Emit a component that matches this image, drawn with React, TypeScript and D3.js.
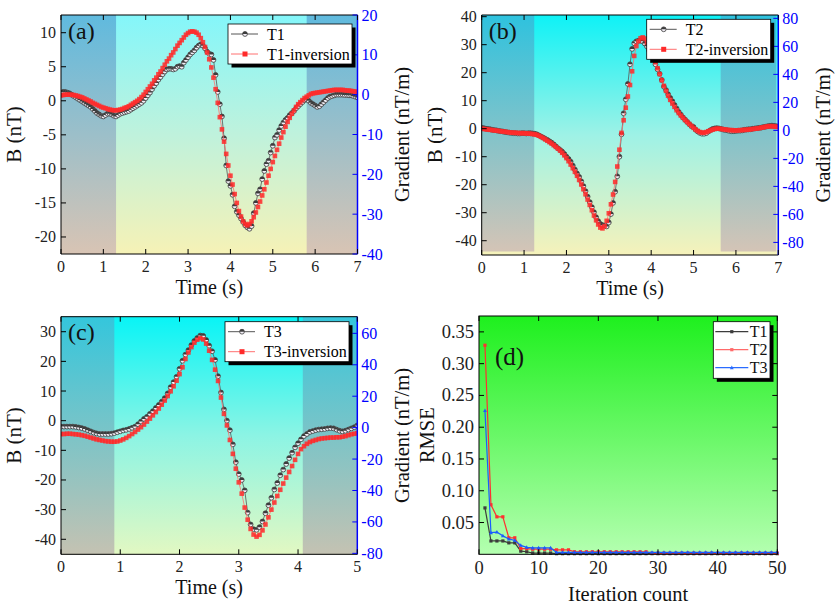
import * as d3 from "d3";

// sampling interval of the profiles (s)
const STEP = 0.05;

const t1Measured = [
  1.2, 1.3, 1.3, 1.2, 1.1, 0.9, 0.7, 0.5, 0.3, 0.1, -0.1, -0.3, -0.5, -0.7, -0.9, -1.2, -1.5, -1.8, -2.0, -2.2,
  -2.3, -2.1, -1.9, -1.9, -2.0, -2.2, -2.3, -2.1, -1.9, -1.8, -1.7, -1.6, -1.5, -1.3, -1.1, -0.9, -0.7, -0.5, -0.3, 0.0,
  0.4, 0.8, 1.2, 1.7, 2.2, 2.6, 3.1, 3.5, 3.9, 4.3, 4.6, 4.7, 4.7, 4.6, 4.7, 5.0, 5.1, 5.0, 5.6, 6.0,
  6.4, 6.8, 7.1, 7.4, 7.8, 8.1, 8.3, 8.1, 7.7, 7.2, 6.9, 6.8, 6.0, 3.8, 1.3, -0.5, -2.3, -5.5, -9.5, -11.8,
  -12.5, -13.8, -15.5, -16.3, -16.8, -17.3, -17.8, -18.3, -18.6, -18.8, -18.4, -16.5, -15.0, -13.6, -13.0, -11.5, -10.3, -9.3, -8.8, -7.6,
  -6.6, -5.4, -5.0, -4.3, -3.7, -3.2, -2.8, -2.5, -2.1, -1.8, -1.5, -1.1, -0.8, -0.5, -0.2, 0.1, 0.2, 0.0, -0.3, -0.5,
  -0.7, -0.9, -0.8, -0.5, -0.2, 0.1, 0.4, 0.6, 0.7, 0.8, 0.9, 0.9, 0.9, 0.9, 0.85, 0.85, 0.8, 0.8, 0.7, 0.6,
  0.5,
];
const t1Inversion = [
  0.8, 0.85, 0.9, 0.9, 0.9, 0.88, 0.85, 0.78, 0.7, 0.6, 0.5, 0.35, 0.2, 0.05, -0.1, -0.3, -0.45, -0.6, -0.75, -0.9,
  -1.0, -1.1, -1.2, -1.3, -1.35, -1.4, -1.4, -1.35, -1.3, -1.2, -1.05, -0.95, -0.8, -0.6, -0.4, -0.2, 0.0, 0.25, 0.55, 0.9,
  1.3, 1.7, 2.1, 2.5, 3.0, 3.4, 3.9, 4.3, 4.8, 5.3, 5.8, 6.2, 6.7, 7.1, 7.6, 8.1, 8.5, 8.9, 9.3, 9.7,
  9.95, 10.15, 10.2, 10.15, 10.0, 9.7, 9.2, 8.6, 7.9, 7.1, 6.1, 4.9, 3.4, 1.7, -0.3, -2.4, -4.2, -6.0, -7.8, -9.5,
  -11.0, -12.3, -13.7, -15.0, -16.2, -17.0, -17.7, -18.1, -18.3, -18.1, -17.7, -17.1, -16.4, -15.6, -14.8, -13.9, -13.0, -12.0, -11.0, -10.0,
  -9.0, -8.1, -7.2, -6.3, -5.4, -4.6, -3.8, -3.1, -2.5, -1.9, -1.4, -0.9, -0.5, -0.2, 0.1, 0.4, 0.6, 0.8, 1.0, 1.1,
  1.15, 1.2, 1.25, 1.3, 1.35, 1.4, 1.45, 1.5, 1.55, 1.6, 1.6, 1.6, 1.6, 1.6, 1.55, 1.5, 1.5, 1.45, 1.4, 1.35,
  1.3,
];

const t2Measured = [
  0.3, 0.2, 0.0, -0.1, -0.2, -0.4, -0.5, -0.6, -0.8, -0.9, -1.0, -1.2, -1.3, -1.4, -1.5, -1.6, -1.6, -1.7, -1.7, -1.6,
  -1.6, -1.7, -1.6, -1.6, -1.7, -1.8, -2.0, -2.4, -2.8, -3.2, -3.6, -4.0, -4.5, -5.0, -5.6, -6.3, -7.0, -7.6, -8.2, -9.0,
  -10.0, -10.8, -11.8, -13.2, -14.6, -16.0, -17.2, -18.8, -20.5, -22.3, -24.3, -26.2, -28.0, -29.8, -31.6, -33.0, -34.0, -34.4, -34.6, -34.9,
  -33.5, -30.5, -26.5, -22.5, -17.0, -10.0, -2.0, 5.5, 10.5, 16.0, 23.0, 28.5, 30.5, 31.2, 31.4, 31.5, 31.2, 30.4, 29.4, 28.0,
  26.6, 24.8, 23.0, 21.2, 19.6, 17.4, 15.0, 13.8, 12.3, 11.0, 9.8, 8.5, 7.2, 6.0, 5.0, 4.0, 3.2, 2.4, 1.6, 0.9,
  0.6, -0.4, -1.0, -1.5, -1.8, -1.8, -1.6, -1.0, -0.5, -0.1, 0.1, 0.2, 0.1, -0.1, -0.3, -0.5, -0.6, -0.8, -0.9, -0.9,
  -0.8, -0.7, -0.7, -0.6, -0.4, -0.3, -0.2, -0.2, 0.0, 0.1, 0.2, 0.3, 0.4, 0.6, 0.7, 0.9, 1.0, 1.1, 1.0, 0.9,
  0.8,
];
const t2Inversion = [
  0.0, -0.1, -0.2, -0.3, -0.4, -0.5, -0.6, -0.7, -0.8, -0.9, -1.0, -1.1, -1.2, -1.3, -1.4, -1.4, -1.5, -1.5, -1.6, -1.6,
  -1.6, -1.7, -1.7, -1.8, -1.9, -2.0, -2.2, -2.5, -2.9, -3.3, -3.8, -4.3, -4.8, -5.3, -5.9, -6.5, -7.1, -7.8, -8.6, -9.5,
  -10.5, -11.6, -12.8, -14.1, -15.4, -16.8, -18.3, -19.9, -21.6, -23.4, -25.3, -27.2, -29.1, -31.0, -32.7, -34.2, -35.3, -35.6, -34.8, -32.9,
  -30.2, -27.0, -23.5, -19.0, -13.5, -7.5, -1.5, 3.0, 7.5, 11.5, 15.6, 20.5, 26.0, 29.5, 31.2, 32.3, 32.6, 32.2, 30.8, 29.3,
  27.6, 25.8, 23.8, 21.6, 19.5, 17.3, 15.3, 13.5, 11.8, 10.3, 9.0, 7.8, 6.6, 5.6, 4.7, 3.9, 3.1, 2.4, 1.7, 1.0,
  0.3, -0.3, -0.8, -1.2, -1.4, -1.4, -1.2, -0.9, -0.6, -0.3, -0.1, 0.0, 0.0, -0.1, -0.2, -0.3, -0.4, -0.5, -0.5, -0.6,
  -0.6, -0.6, -0.5, -0.5, -0.4, -0.4, -0.3, -0.2, -0.1, 0.0, 0.1, 0.2, 0.4, 0.5, 0.7, 0.8, 0.9, 0.9, 0.8, 0.7,
  0.6,
];

const t3Measured = [
  -2.0, -2.0, -2.0, -2.0, -2.0, -2.1, -2.3, -2.5, -2.8, -3.2, -3.6, -4.0, -4.3, -4.5, -4.5, -4.5, -4.5, -4.4, -4.2, -3.9,
  -3.6, -3.3, -3.1, -2.8, -2.4, -2.0, -1.2, -0.3, 0.6, 1.3, 2.3, 3.2, 4.3, 5.3, 6.4, 7.6, 9.2, 11.3, 13.0, 14.8,
  17.5, 20.2, 22.3, 23.8, 25.5, 26.9, 27.9, 28.7, 28.6, 27.2, 25.3, 23.4, 20.5, 15.0, 9.5, 3.8, 0.0, -3.2, -8.0, -14.0,
  -18.0, -20.0, -23.5, -31.0, -35.0, -36.6, -36.8, -35.9, -34.0, -31.2, -28.5, -26.0, -23.2, -21.0, -18.4, -16.5, -14.6, -12.6, -10.8, -9.0,
  -7.6, -6.3, -5.2, -4.5, -3.8, -3.5, -3.2, -3.0, -2.9, -2.8, -2.6, -2.5, -2.6, -3.0, -3.4, -3.6, -3.4, -3.0, -2.6, -2.2,
  -1.6,
];
const t3Inversion = [
  -4.5, -4.5, -4.4, -4.4, -4.5, -4.6, -4.7, -4.9, -5.1, -5.4, -5.7, -6.0, -6.3, -6.5, -6.7, -6.9, -7.0, -7.1, -7.1, -7.0,
  -6.7, -6.3, -5.8, -5.2, -4.5, -3.8, -3.0, -2.2, -1.3, -0.3, 0.7, 1.8, 2.9, 4.1, 5.4, 6.8, 8.3, 9.9, 11.6, 13.5,
  15.7, 18.0, 20.8, 23.0, 24.8, 26.3, 27.3, 27.8, 27.4, 26.0, 23.6, 20.5, 17.2, 13.4, 7.8, 2.3, -1.6, -6.5, -11.2, -16.2,
  -20.8, -24.6, -29.3, -33.4, -36.5, -38.4, -39.1, -38.5, -37.0, -35.0, -32.6, -30.0, -27.6, -25.4, -23.3, -21.2, -19.2, -17.3, -15.3, -13.2,
  -11.2, -9.6, -8.6, -7.8, -7.2, -6.8, -6.5, -6.2, -6.0, -5.9, -5.8, -5.7, -5.7, -5.6, -5.6, -5.4, -5.2, -4.9, -4.6, -4.4,
  -4.2,
];

// RMSE per iteration (1..50)
const rmseT1 = [
  0.073, 0.021, 0.021, 0.021, 0.018, 0.018, 0.005, 0.004, 0.002, 0.002, 0.002, 0.002,
  0.001, 0.001, 0.001, 0.001, 0.001, 0.001, 0.001, 0.001, 0.001, 0.001, 0.001, 0.001, 0.001,
  0.001, 0.001, 0.001, 0.001, 0.001, 0.001, 0.001, 0.001, 0.001, 0.001, 0.001, 0.001, 0.001,
  0.001, 0.001, 0.001, 0.001, 0.001, 0.001, 0.001, 0.001, 0.001, 0.001, 0.001, 0.001,
];
const rmseT2 = [
  0.329, 0.078, 0.059, 0.059, 0.026, 0.026, 0.009, 0.009, 0.008, 0.008, 0.008, 0.008, 0.007, 0.007, 0.007,
  0.004, 0.004, 0.004, 0.004, 0.004, 0.004, 0.004, 0.004, 0.004, 0.004, 0.004, 0.004, 0.004,
  0.002, 0.002, 0.002, 0.002, 0.002, 0.002, 0.002, 0.002, 0.002, 0.002, 0.002, 0.002, 0.002,
  0.002, 0.002, 0.002, 0.002, 0.002, 0.002, 0.002, 0.002, 0.002,
];
const rmseT3 = [
  0.226, 0.034, 0.035, 0.029, 0.024, 0.022, 0.014, 0.011, 0.010, 0.010, 0.010, 0.010,
  0.003, 0.003, 0.003, 0.003, 0.003, 0.003, 0.003, 0.003, 0.003, 0.003, 0.003, 0.003, 0.003,
  0.003, 0.003, 0.003, 0.003, 0.003, 0.003, 0.003, 0.003, 0.003, 0.003, 0.003, 0.003, 0.003,
  0.003, 0.003, 0.003, 0.003, 0.003, 0.003, 0.003, 0.003, 0.003, 0.003, 0.003, 0.003,
];

const FONT = "'Liberation Serif', serif";
const BLUE = "#0000ff";

type Box = { x0: number; x1: number; y0: number; y1: number };

function MeasuredMarker({ cx, cy, r = 2.4 }: { cx: number; cy: number; r?: number }) {
  return (
    <g>
      <circle cx={cx} cy={cy} r={r} fill="#f2eef6" stroke="#3c3c3c" strokeWidth={0.8} />
      <path d={`M${cx - r},${cy} A${r},${r} 0 0 1 ${cx + r},${cy} Z`} fill="#3c3c3c" />
    </g>
  );
}

function Legend({ x, y, names }: { x: number; y: number; names: string[] }) {
  const w = 124;
  const h = 40;
  return (
    <g style={{ fontFamily: FONT, fontSize: "16px" }}>
      <rect x={x + 3.5} y={y + 3.5} width={w} height={h} fill="#000" />
      <rect x={x} y={y} width={w} height={h} fill="#fff" stroke="#000" strokeWidth={0.8} />
      <line x1={x + 3} x2={x + 30} y1={y + 10} y2={y + 10} stroke="#555" strokeWidth={1} />
      <MeasuredMarker cx={x + 17} cy={y + 10} />
      <text x={x + 39} y={y + 15.5}>{names[0]}</text>
      <line x1={x + 3} x2={x + 30} y1={y + 30} y2={y + 30} stroke="#ff7070" strokeWidth={1} />
      <rect x={x + 14.5} y={y + 27.5} width={5} height={5} fill="#ff2a2a" />
      <text x={x + 39} y={y + 35.5}>{names[1]}</text>
    </g>
  );
}

function Profile({
  id,
  box,
  xMax,
  yDomain,
  yTicks,
  y2Domain,
  y2Ticks,
  shades,
  bg,
  shade,
  shadeBottom,
  measured,
  inversion,
  names,
  label,
  legendPos,
}: {
  id: string;
  box: Box;
  xMax: number;
  yDomain: [number, number];
  yTicks: number[];
  y2Domain: [number, number];
  y2Ticks: number[];
  shades: [number, number][];
  bg: string[];
  shade: string[];
  shadeBottom: number;
  measured: number[];
  inversion: number[];
  names: string[];
  label: string;
  legendPos: [number, number];
}) {
  const x = d3.scaleLinear().domain([0, xMax]).range([box.x0, box.x1]);
  const y = d3.scaleLinear().domain(yDomain).range([box.y1, box.y0]);
  const y2 = d3.scaleLinear().domain(y2Domain).range([box.y1, box.y0]);
  const xTicks = d3.range(0, xMax + 1);
  const line = d3
    .line<number>()
    .x((_, i) => x(i * STEP))
    .y(d => y(d));
  const w = box.x1 - box.x0;
  const h = box.y1 - box.y0;
  return (
    <g style={{ fontFamily: FONT }}>
      <defs>
        <linearGradient id={`bg-${id}`} x1="0" y1="0" x2="0" y2="1">
          {bg.map((c, i) => (
            <stop key={i} offset={i / (bg.length - 1)} stopColor={c} />
          ))}
        </linearGradient>
        <linearGradient id={`sh-${id}`} x1="0" y1="0" x2="0" y2="1">
          {shade.map((c, i) => (
            <stop key={i} offset={i / (shade.length - 1)} stopColor={c} />
          ))}
        </linearGradient>
        <clipPath id={`clip-${id}`}>
          <rect x={box.x0} y={box.y0} width={w} height={h} />
        </clipPath>
      </defs>
      <rect x={box.x0} y={box.y0} width={w} height={h} fill={`url(#bg-${id})`} />
      {shades.map(([a, b], i) => (
        <rect
          key={i}
          x={x(a)}
          y={box.y0}
          width={x(b) - x(a)}
          height={shadeBottom - box.y0}
          fill={`url(#sh-${id})`}
        />
      ))}
      <g clipPath={`url(#clip-${id})`}>
        <path d={line(measured) ?? undefined} fill="none" stroke="#555" strokeWidth={0.8} />
        {measured.map((d, i) => (
          <MeasuredMarker key={i} cx={x(i * STEP)} cy={y(d)} />
        ))}
        <path d={line(inversion) ?? undefined} fill="none" stroke="#ff7070" strokeWidth={0.8} />
        {inversion.map((d, i) => (
          <rect
            key={i}
            x={x(i * STEP) - 2.3}
            y={y(d) - 2.3}
            width={4.6}
            height={4.6}
            fill="#ff2a2a"
            fillOpacity={0.85}
          />
        ))}
      </g>
      {/* frame */}
      <line x1={box.x0} x2={box.x1} y1={box.y0} y2={box.y0} stroke="#000" strokeWidth={1} />
      <line x1={box.x0} x2={box.x1} y1={box.y1} y2={box.y1} stroke="#000" strokeWidth={1} />
      <line x1={box.x0} x2={box.x0} y1={box.y0} y2={box.y1} stroke="#000" strokeWidth={1} />
      <line x1={box.x1} x2={box.x1} y1={box.y0} y2={box.y1} stroke={BLUE} strokeWidth={1.5} />
      {xTicks.map(t => (
        <g key={t}>
          <line x1={x(t)} x2={x(t)} y1={box.y1} y2={box.y1 - 5} stroke="#000" />
          <line x1={x(t)} x2={x(t)} y1={box.y0} y2={box.y0 + 5} stroke="#000" />
          <text x={x(t)} y={box.y1 + 18} style={{ fontSize: "16px" }} textAnchor="middle" fill="#222">
            {t}
          </text>
        </g>
      ))}
      {yTicks.map(t => (
        <g key={t}>
          <line x1={box.x0} x2={box.x0 + 5} y1={y(t)} y2={y(t)} stroke="#000" />
          <text x={box.x0 - 5} y={y(t) + 5.5} style={{ fontSize: "16px" }} textAnchor="end" fill="#222">
            {t}
          </text>
        </g>
      ))}
      {y2Ticks.map(t => (
        <g key={t}>
          <line x1={box.x1} x2={box.x1 - 5} y1={y2(t)} y2={y2(t)} stroke={BLUE} />
          <text x={box.x1 + 4} y={y2(t) + 5.5} style={{ fontSize: "16px" }} textAnchor="start" fill={BLUE}>
            {t}
          </text>
        </g>
      ))}
      <text
        x={(box.x0 + box.x1) / 2}
        y={box.y1 + 40}
        style={{ fontSize: "20px" }}
        textAnchor="middle"
        fill="#111"
      >
        Time (s)
      </text>
      <text
        transform={`translate(${box.x0 - 40},${(box.y0 + box.y1) / 2}) rotate(-90)`}
        style={{ fontSize: "21px" }}
        textAnchor="middle"
        fill="#111"
      >
        B (nT)
      </text>
      <text
        transform={`translate(${box.x1 + 51.5},${(box.y0 + box.y1) / 2}) rotate(-90)`}
        style={{ fontSize: "20.5px" }}
        textAnchor="middle"
        fill="#111"
      >
        Gradient (nT/m)
      </text>
      <text x={box.x0 + 7} y={box.y0 + 23.5} style={{ fontSize: "24px" }} fill="#111">
        {label}
      </text>
      <Legend x={legendPos[0]} y={legendPos[1]} names={names} />
    </g>
  );
}

function RmsePanel() {
  const box: Box = { x0: 479, x1: 777.3, y0: 316, y1: 554.3 };
  const x = d3.scaleLinear().domain([0, 50]).range([box.x0, box.x1]);
  const y = d3.scaleLinear().domain([0, 0.375]).range([box.y1, box.y0]);
  const xTicks = [0, 10, 20, 30, 40, 50];
  const yTicks = [0.05, 0.1, 0.15, 0.2, 0.25, 0.3, 0.35];
  const line = d3
    .line<number>()
    .x((_, i) => x(i + 1))
    .y(d => y(d));
  const series = [
    { name: "T1", data: rmseT1, color: "#3c3c3c", legendColor: "#3c3c3c", shape: "square" },
    { name: "T2", data: rmseT2, color: "#ff3030", legendColor: "#ff6a6a", shape: "square" },
    { name: "T3", data: rmseT3, color: "#1a5cff", legendColor: "#2a6cff", shape: "triangle" },
  ];
  const marker = (shape: string, cx: number, cy: number, color: string, s = 3.2) =>
    shape === "square" ? (
      <rect x={cx - s / 2} y={cy - s / 2} width={s} height={s} fill={color} />
    ) : (
      <path d={`M${cx},${cy - s * 0.65} L${cx + s * 0.6},${cy + s * 0.45} L${cx - s * 0.6},${cy + s * 0.45} Z`} fill={color} />
    );
  const lx = 713.3;
  const ly = 321.7;
  return (
    <g style={{ fontFamily: FONT }}>
      <defs>
        <linearGradient id="bg-d" x1="0" y1="0" x2="0" y2="1">
          <stop offset="0" stopColor="#1ef01e" />
          <stop offset="1" stopColor="#b4ffb0" />
        </linearGradient>
      </defs>
      <rect x={box.x0} y={box.y0} width={box.x1 - box.x0} height={box.y1 - box.y0} fill="url(#bg-d)" />
      {series.map(s => (
        <g key={s.name}>
          <path d={line(s.data) ?? undefined} fill="none" stroke={s.color} strokeWidth={1.2} />
          {s.data.map((d, i) => (
            <g key={i}>{marker(s.shape, x(i + 1), y(d), s.color)}</g>
          ))}
        </g>
      ))}
      <rect
        x={box.x0}
        y={box.y0}
        width={box.x1 - box.x0}
        height={box.y1 - box.y0}
        fill="none"
        stroke="#000"
        strokeWidth={1}
      />
      {xTicks.map(t => (
        <g key={t}>
          <line x1={x(t)} x2={x(t)} y1={box.y1} y2={box.y1 - 5} stroke="#000" />
          <line x1={x(t)} x2={x(t)} y1={box.y0} y2={box.y0 + 5} stroke="#000" />
          <text x={x(t)} y={box.y1 + 20} style={{ fontSize: "18.5px" }} textAnchor="middle" fill="#222">
            {t}
          </text>
        </g>
      ))}
      {yTicks.map(t => (
        <g key={t}>
          <line x1={box.x0} x2={box.x0 + 5} y1={y(t)} y2={y(t)} stroke="#000" />
          <line x1={box.x1} x2={box.x1 - 5} y1={y(t)} y2={y(t)} stroke="#000" />
          <text x={box.x0 - 5} y={y(t) + 6} style={{ fontSize: "18.5px" }} textAnchor="end" fill="#222">
            {d3.format(".2f")(t)}
          </text>
        </g>
      ))}
      <text x={(box.x0 + box.x1) / 2} y={box.y1 + 47} style={{ fontSize: "20.5px" }} textAnchor="middle" fill="#111">
        Iteration count
      </text>
      <text
        transform={`translate(${box.x0 - 45},${(box.y0 + box.y1) / 2}) rotate(-90)`}
        style={{ fontSize: "20.5px" }}
        textAnchor="middle"
        fill="#111"
      >
        RMSE
      </text>
      <text x={495} y={365} style={{ fontSize: "25px" }} fill="#111">
        (d)
      </text>
      <g style={{ fontSize: "16px" }}>
        <rect x={lx + 3.5} y={ly + 3.5} width={56.7} height={56.6} fill="#000" />
        <rect x={lx} y={ly} width={56.7} height={56.6} fill="#fff" stroke="#000" strokeWidth={0.8} />
        {series.map((s, i) => {
          const yy = ly + 10 + i * 18;
          return (
            <g key={s.name}>
              <line x1={lx + 2} x2={lx + 35} y1={yy} y2={yy} stroke={s.legendColor} strokeWidth={1.2} />
              {marker(s.shape, lx + 18.5, yy, s.legendColor)}
              <text x={lx + 36.5} y={yy + 5.5} fill="#111">
                {s.name}
              </text>
            </g>
          );
        })}
      </g>
    </g>
  );
}

export default function App() {
  return (
    <svg
      width={839}
      height={611}
      style={{ position: "absolute", left: 0, top: 0, background: "#fff" }}
    >
      <Profile
        id="a"
        box={{ x0: 61, x1: 357.5, y0: 15, y1: 254 }}
        xMax={7}
        yDomain={[-22.5, 12.6]}
        yTicks={[-20, -15, -10, -5, 0, 5, 10]}
        y2Domain={[-40, 20]}
        y2Ticks={[-40, -30, -20, -10, 0, 10, 20]}
        shades={[
          [0, 1.3],
          [5.8, 7],
        ]}
        bg={["#84f6fa", "#bff2dc", "#f6f2b6"]}
        shade={["#60bade", "#d8c4b4"]}
        shadeBottom={254}
        measured={t1Measured}
        inversion={t1Inversion}
        names={["T1", "T1-inversion"]}
        label="(a)"
        legendPos={[228, 24]}
      />
      <Profile
        id="b"
        box={{ x0: 481.7, x1: 778.3, y0: 15, y1: 255 }}
        xMax={7}
        yDomain={[-45.1, 40.6]}
        yTicks={[-40, -30, -20, -10, 0, 10, 20, 30, 40]}
        y2Domain={[-89, 82.4]}
        y2Ticks={[-80, -60, -40, -20, 0, 20, 40, 60, 80]}
        shades={[
          [0, 1.24],
          [5.64, 6.95],
        ]}
        bg={["#0ef2f6", "#9ef2e6", "#f6f2ba"]}
        shade={["#2ec2de", "#d4c4b6"]}
        shadeBottom={251.5}
        measured={t2Measured}
        inversion={t2Inversion}
        names={["T2", "T2-inversion"]}
        label="(b)"
        legendPos={[646.7, 19.3]}
      />
      <Profile
        id="c"
        box={{ x0: 61, x1: 357.3, y0: 316.7, y1: 554.3 }}
        xMax={5}
        yDomain={[-45.06, 35.06]}
        yTicks={[-40, -30, -20, -10, 0, 10, 20, 30]}
        y2Domain={[-80.6, 70.6]}
        y2Ticks={[-80, -60, -40, -20, 0, 20, 40, 60]}
        shades={[
          [0, 0.9],
          [4.08, 5],
        ]}
        bg={["#08f4f6", "#8cf4e4", "#e2f8c2"]}
        shade={["#34c6dc", "#c4c2b2"]}
        shadeBottom={554.3}
        measured={t3Measured}
        inversion={t3Inversion}
        names={["T3", "T3-inversion"]}
        label="(c)"
        legendPos={[225, 321.7]}
      />
      <RmsePanel />
    </svg>
  );
}
